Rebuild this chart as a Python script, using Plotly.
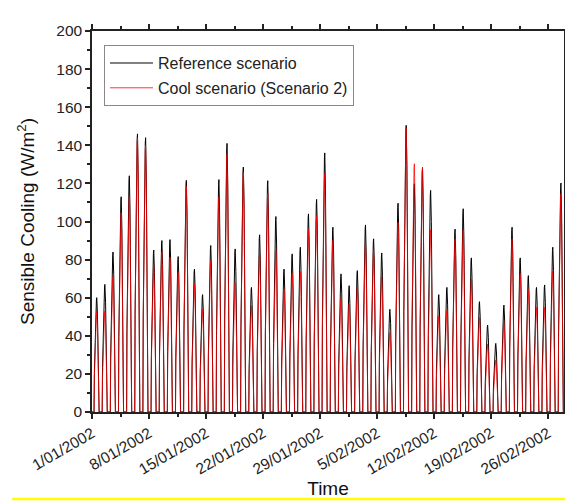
import pandas as pd
import plotly.graph_objects as go

# Daily peak sensible cooling (W/m2), 1 Jan 2002 .. 27 Feb 2002
peak_reference = [60, 67, 84, 113, 124, 146, 144, 85, 90, 90.5,
                  81.6, 121.6, 75, 61.6, 87.4, 122, 141, 85.6, 128.6, 65.4,
                  93, 121.4, 102.6, 75, 83, 86.5, 104, 111.6, 136, 97,
                  72.5, 66.3, 74.2, 98.2, 90.9, 83.5, 53.9, 109.6, 150.5, 119.8,
                  128, 116.3, 61.6, 65.4, 96, 106.7, 80.9, 57.9, 45.6, 36,
                  56.1, 97, 80.9, 71.6, 65.4, 66.7, 86.5, 120.2]
peak_cool = [53, 53, 71.6, 104.6, 113, 144, 140, 76.8, 83.9, 81.2,
             73.3, 118.6, 67.2, 54, 79.5, 112.8, 135.6, 68, 126, 55.8,
             83, 114.6, 84.7, 64.6, 73, 73.9, 96, 102.8, 125, 90,
             60, 56.7, 65.4, 89, 84.7, 71.6, 41.8, 99.6, 148.8, 130.3,
             128.6, 95.6, 50.5, 53.5, 90.9, 95.6, 69.8, 49.6, 35.6, 27.2,
             47, 90.9, 72.5, 64.6, 54.9, 54.9, 74.2, 114.6]
# Hourly fraction of the daily peak (hours 0..23)
hourly_profile = [0, 0, 0, 0, 0, 0, 0, 0.35, 0.5, 0.62, 0.73, 0.83,
                  0.92, 0.98, 1.0, 0.96, 0.86, 0.7, 0.5, 0, 0, 0, 0, 0]
tick_labels = ["1/01/2002", "8/01/2002", "15/01/2002", "22/01/2002", "29/01/2002",
               "5/02/2002", "12/02/2002", "19/02/2002", "26/02/2002"]

n_days = len(peak_reference)
times = pd.date_range("2002-01-01", periods=n_days * 24, freq="h")
ref_vals = [peak_reference[d] * f for d in range(n_days) for f in hourly_profile]
cool_vals = [peak_cool[d] * f for d in range(n_days) for f in hourly_profile]
tick_vals = pd.date_range("2002-01-01", periods=len(tick_labels), freq="7D")

FONT = "Liberation Sans, Arial, sans-serif"

fig = go.Figure()
fig.add_trace(go.Scatter(x=times, y=ref_vals, mode="lines", name="Reference scenario",
                         legendgroup="a", line=dict(color="#000000", width=1)))
fig.add_trace(go.Scatter(x=times, y=cool_vals, mode="lines", name="Cool scenario (Scenario 2)",
                         legendgroup="b", line=dict(color="#ff0000", width=0.8)))

fig.update_layout(
    width=565, height=493,
    margin=dict(l=84, r=9, t=23, b=89, autoexpand=False),
    paper_bgcolor="white", plot_bgcolor="white",
    font=dict(family=FONT, size=15.5, color="#222"),
    showlegend=True,
    legend=dict(x=0.0254, y=0.963, xanchor="left", yanchor="top",
                bgcolor="white", bordercolor="#888", borderwidth=1,
                font=dict(family=FONT, size=16, color="#222"),
                itemwidth=43, tracegroupgap=1, traceorder="grouped"),
    xaxis=dict(range=[times[0], times[-1]], tickmode="array", tickvals=tick_vals,
               ticktext=tick_labels, tickangle=-30, ticks="outside", ticklen=5,
               tickwidth=1.5, tickcolor="#222", automargin=False,
               tickfont=dict(family=FONT, size=15.5, color="#222"),
               minor=dict(dtick=3.5 * 86400000, tick0="2002-01-01", ticks="outside",
                          ticklen=3, tickwidth=1.5, tickcolor="#222"),
               showline=True, linecolor="#222", linewidth=1.5, mirror="ticks",
               showgrid=False, zeroline=False,
               title=dict(text="Time", font=dict(size=19, family=FONT, color="#111"), standoff=2)),
    yaxis=dict(range=[0, 200], dtick=20, ticks="outside", ticklen=5, tickwidth=1.5,
               tickcolor="#222", automargin=False,
               tickfont=dict(family=FONT, size=15.5, color="#222"),
               minor=dict(dtick=10, ticks="outside", ticklen=3, tickwidth=1.5, tickcolor="#222"),
               showline=True, linecolor="#222", linewidth=1.5, mirror="ticks",
               showgrid=False, zeroline=False,
               title=dict(text="Sensible Cooling (W/m<sup>2</sup>)",
                          font=dict(size=19, family=FONT, color="#111"),
                          standoff=17)),
    shapes=[dict(type="line", xref="paper", yref="paper",
                 x0=-0.169, x1=1.05, y0=-0.2286, y1=-0.2286,
                 line=dict(color="#ffff00", width=2.5))],
)

fig.write_html("out.html")
